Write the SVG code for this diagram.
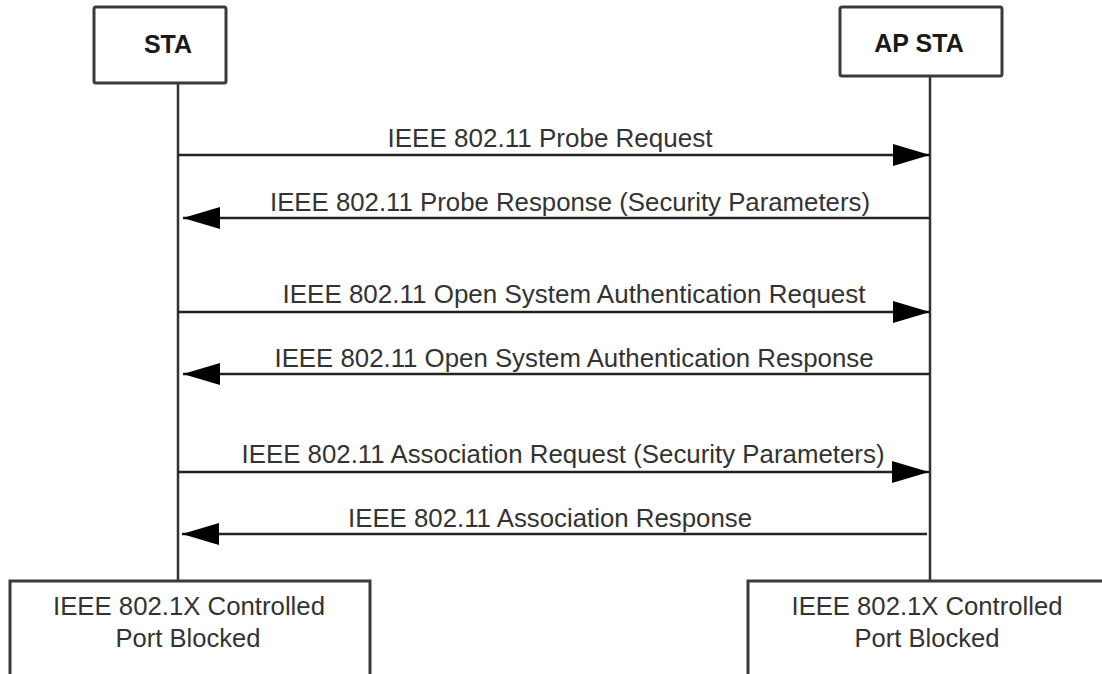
<svg xmlns="http://www.w3.org/2000/svg" width="1102" height="674" viewBox="0 0 1102 674">
<style>
.box{fill:#fff;stroke:#3a3a3a;stroke-width:3}
.life{stroke:#333;stroke-width:2.5;fill:none}
.msg{stroke:#222;stroke-width:2.5;fill:none}
.hdr{font-family:"Liberation Sans",Arial,sans-serif;font-weight:bold;font-size:25px;fill:#1a1a1a;text-anchor:middle}
.lbl{font-family:"Liberation Sans",Arial,sans-serif;font-size:25px;fill:#333;text-anchor:middle}
</style>
<defs>
<marker id="ah" markerUnits="userSpaceOnUse" markerWidth="40" markerHeight="24" refX="37" refY="11" orient="auto">
<path d="M0,0 L37,11 L0,22 Z" fill="#000"/>
</marker>
</defs>
<rect width="1102" height="674" fill="#fff"/>
<g id="lifelines">
<line class="life" x1="178" y1="83" x2="178" y2="581"/>
<line class="life" x1="930" y1="76" x2="930" y2="581"/>
</g>
<g id="sta">
<rect class="box" x="94" y="7" width="132" height="76" rx="2"/>
<text class="hdr" x="168" y="53">STA</text>
</g>
<g id="apsta">
<rect class="box" x="840" y="7" width="162" height="69" rx="2"/>
<text class="hdr" x="919" y="52">AP STA</text>
</g>
<g id="connectors">
<line class="msg" x1="178" y1="155" x2="930" y2="155" marker-end="url(#ah)"/>
<line class="msg" x1="930" y1="218" x2="183" y2="218" marker-end="url(#ah)"/>
<line class="msg" x1="178" y1="312" x2="930" y2="312" marker-end="url(#ah)"/>
<line class="msg" x1="930" y1="374" x2="183" y2="374" marker-end="url(#ah)"/>
<line class="msg" x1="178" y1="472" x2="929" y2="472" marker-end="url(#ah)"/>
<line class="msg" x1="927" y1="534" x2="182" y2="534" marker-end="url(#ah)"/>
</g>
<g id="labels">
<text class="lbl" x="550" y="147" textLength="325" lengthAdjust="spacingAndGlyphs">IEEE 802.11 Probe Request</text>
<text class="lbl" x="570" y="211" textLength="600" lengthAdjust="spacingAndGlyphs">IEEE 802.11 Probe Response (Security Parameters)</text>
<text class="lbl" x="574" y="303" textLength="583" lengthAdjust="spacingAndGlyphs">IEEE 802.11 Open System Authentication Request</text>
<text class="lbl" x="574" y="367" textLength="599" lengthAdjust="spacingAndGlyphs">IEEE 802.11 Open System Authentication Response</text>
<text class="lbl" x="563" y="463" textLength="643" lengthAdjust="spacingAndGlyphs">IEEE 802.11 Association Request (Security Parameters)</text>
<text class="lbl" x="550" y="527" textLength="404" lengthAdjust="spacingAndGlyphs">IEEE 802.11 Association Response</text>
</g>
<g id="sta-port">
<rect class="box" x="10" y="581" width="360" height="110"/>
<text class="lbl" x="189" y="615" textLength="272" lengthAdjust="spacingAndGlyphs">IEEE 802.1X Controlled</text>
<text class="lbl" x="188" y="647" textLength="145" lengthAdjust="spacingAndGlyphs">Port Blocked</text>
</g>
<g id="ap-port">
<rect class="box" x="748" y="581" width="362" height="110"/>
<text class="lbl" x="927" y="615" textLength="271" lengthAdjust="spacingAndGlyphs">IEEE 802.1X Controlled</text>
<text class="lbl" x="927" y="647" textLength="145" lengthAdjust="spacingAndGlyphs">Port Blocked</text>
</g>
</svg>
